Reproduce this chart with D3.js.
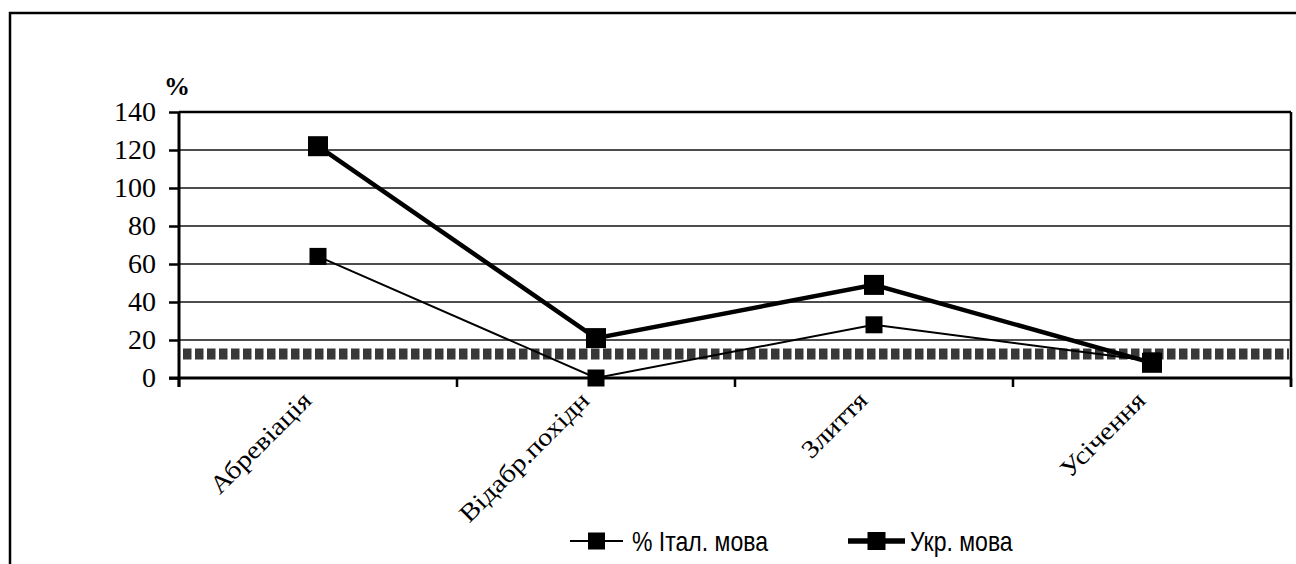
<!DOCTYPE html>
<html><head><meta charset="utf-8">
<script src="https://cdn.jsdelivr.net/npm/d3@7"></script>
<style>html,body{margin:0;padding:0;background:#fff;overflow:hidden}</style>
</head><body>
<svg id="c" width="1296" height="564"></svg>
<script>
const categories = ["Абревіація", "Відабр.похідн", "Злиття", "Усічення"];
const italValues = [64, 0, 28, 9];
const ukrValues = [122, 21, 49, 8];
const seriesNames = ["% Італ. мова", "Укр. мова"];
const dashedLevel = 12.6;
const yTicks = [0, 20, 40, 60, 80, 100, 120, 140];

const svg = d3.select("#c");
const pLeft = 179, pRight = 1291, pTop = 112, pBottom = 378;

// outer frame
svg.append("rect").attr("x", 10).attr("y", 13).attr("width", 1400).attr("height", 700)
  .attr("fill", "none").attr("stroke", "#000").attr("stroke-width", 2.5);

const x = d3.scaleBand().domain(categories).range([pLeft, pRight]).padding(0);
const y = d3.scaleLinear().domain([0, 140]).range([pBottom, pTop]);

// gridlines
const grid = svg.append("g");
grid.selectAll("line").data(yTicks.filter(t => t > 0 && t < 140)).join("line")
  .attr("x1", pLeft).attr("x2", pRight).attr("y1", d => y(d)).attr("y2", d => y(d))
  .attr("stroke", "#4d4d4d").attr("stroke-width", 2.2);
// top border and right border
svg.append("line").attr("x1", pLeft).attr("x2", pRight).attr("y1", y(140)).attr("y2", y(140))
  .attr("stroke", "#000").attr("stroke-width", 2.5);
svg.append("line").attr("x1", pRight).attr("x2", pRight).attr("y1", y(140)).attr("y2", pBottom + 9)
  .attr("stroke", "#000").attr("stroke-width", 2.5);

// dashed level line
svg.append("line").attr("x1", pLeft + 4).attr("x2", pRight - 2)
  .attr("y1", y(dashedLevel)).attr("y2", y(dashedLevel))
  .attr("stroke", "#383838").attr("stroke-width", 11).attr("stroke-dasharray", "8.5 3.5");

// y axis
const yAxis = svg.append("g").attr("transform", `translate(${pLeft},0)`)
  .call(d3.axisLeft(y).tickValues(yTicks).tickSize(10).tickPadding(13));
yAxis.select(".domain").attr("stroke", "#000").attr("stroke-width", 3)
  .attr("d", `M0,${pTop}V${pBottom + 9}`);
yAxis.selectAll(".tick line").attr("stroke", "#000").attr("stroke-width", 2.5);
yAxis.selectAll(".tick text").attr("font-family", "'Liberation Serif','Times New Roman',serif")
  .attr("font-size", 28).attr("fill", "#000");

// x axis
const xAxis = svg.append("g").attr("transform", `translate(0,${pBottom})`)
  .call(d3.axisBottom(x).tickSize(0).tickFormat(""));
xAxis.select(".domain").attr("stroke", "#000").attr("stroke-width", 3)
  .attr("d", `M${pLeft - 10},0H${pRight}`);
xAxis.selectAll(".tick").remove();
const boundaries = categories.map(c => x(c)).concat([x(categories[categories.length - 1]) + x.bandwidth()]);
xAxis.selectAll("line.bt").data(boundaries).join("line").attr("class", "bt")
  .attr("x1", d => d).attr("x2", d => d).attr("y1", 0).attr("y2", 9)
  .attr("stroke", "#000").attr("stroke-width", 2.5);

// category labels
svg.append("g").selectAll("text").data(categories).join("text")
  .attr("transform", d => `translate(${x(d) + x.bandwidth() / 2 - 5},${pBottom + 24}) rotate(-45) scale(1.15,1)`)
  .attr("text-anchor", "end")
  .attr("font-family", "'Liberation Serif','Times New Roman',serif")
  .attr("font-size", 25).attr("fill", "#000").text(d => d);

// % label
svg.append("text").attr("x", 177).attr("y", 95).attr("text-anchor", "middle")
  .attr("font-family", "'Liberation Serif','Times New Roman',serif").attr("font-weight", "bold")
  .attr("font-size", 26).text("%");

const cx = d => x(d) + x.bandwidth() / 2;
const line = d3.line().x(d => cx(d.c)).y(d => y(d.v));

const italData = categories.map((c, i) => ({c, v: italValues[i]}));
const ukrData = categories.map((c, i) => ({c, v: ukrValues[i]}));

function drawSeries(data, sw, ms) {
  svg.append("path").datum(data).attr("d", line).attr("fill", "none")
    .attr("stroke", "#000").attr("stroke-width", sw);
  svg.append("g").selectAll("rect").data(data).join("rect")
    .attr("x", d => cx(d.c) - ms / 2).attr("y", d => y(d.v) - ms / 2)
    .attr("width", ms).attr("height", ms).attr("fill", "#000");
}
drawSeries(italData, 2, 17);
drawSeries(ukrData, 4.5, 20);

// legend
const legend = [
  {name: seriesNames[0], x1: 570, x2: 623, sw: 2, ms: 17, tx: 632},
  {name: seriesNames[1], x1: 848, x2: 905, sw: 5.5, ms: 18, tx: 910}
];
const ly = 541;
const lg = svg.append("g");
legend.forEach(l => {
  lg.append("line").attr("x1", l.x1).attr("x2", l.x2).attr("y1", ly).attr("y2", ly)
    .attr("stroke", "#000").attr("stroke-width", l.sw);
  const mx = (l.x1 + l.x2) / 2;
  lg.append("rect").attr("x", mx - l.ms / 2).attr("y", ly - l.ms / 2)
    .attr("width", l.ms).attr("height", l.ms).attr("fill", "#000");
  lg.append("text").attr("transform", `translate(${l.tx},${ly}) scale(0.96,1.12)`).attr("dy", "0.36em")
    .attr("font-family", "'Liberation Sans',Arial,sans-serif")
    .attr("font-size", 24).attr("fill", "#000").text(l.name);
});
</script>
</body></html>
